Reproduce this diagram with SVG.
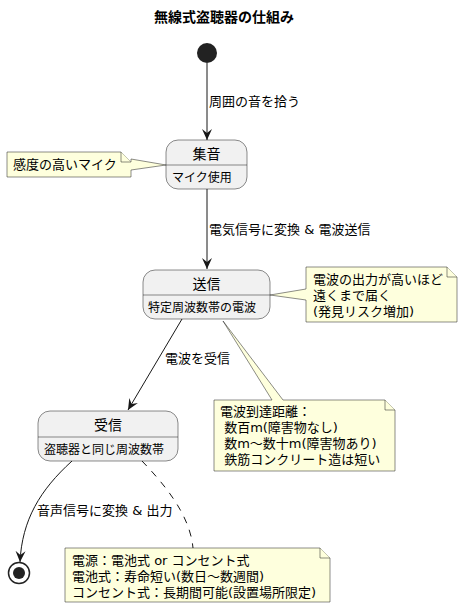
<svg xmlns="http://www.w3.org/2000/svg" width="463" height="608" viewBox="0 0 463 608">
<defs>
<marker id="arr" viewBox="0 0 12 10" refX="11" refY="5" markerWidth="12" markerHeight="10" markerUnits="userSpaceOnUse" orient="auto">
<path d="M0,0 L11,5 L0,10 L4,5 Z" fill="#181818"/>
</marker>
</defs>
<style>
text{font-family:"DejaVu Sans","Noto Sans CJK JP",sans-serif;fill:#000;white-space:pre}
.t{font-size:14px;font-weight:bold}
.n{font-size:14px}
.d{font-size:12px}
.l,.nt{font-size:13px}
.state{fill:#F1F1F1;stroke:#181818;stroke-width:0.5}
.note{fill:#FEFFDD;stroke:#181818;stroke-width:0.5}
.edge{fill:none;stroke:#181818;stroke-width:1}
</style>
<rect width="463" height="608" fill="#fff"/>
<text class="t" x="224" y="22" text-anchor="middle">無線式盗聴器の仕組み</text>

<g id="start"><circle cx="207" cy="53" r="10" fill="#222"/></g>

<g id="connectors">
<path class="edge" d="M207,63 L207,140" marker-end="url(#arr)"/>
<text class="l" x="209" y="106">周囲の音を拾う</text>
<path class="edge" d="M207,189 L207,269" marker-end="url(#arr)"/>
<text class="l" x="209" y="234">電気信号に変換 &amp; 電波送信</text>
<path class="edge" d="M182,319 L128,410" marker-end="url(#arr)"/>
<text class="l" x="165" y="363">電波を受信</text>
<path class="edge" d="M72,461 C40,490 22,520 20,562" marker-end="url(#arr)"/>
<text class="l" x="37" y="515">音声信号に変換 &amp; 出力</text>
<path class="edge" d="M142,461 C165,485 190,515 193,548" stroke-dasharray="7,7"/>
</g>

<g id="s_shuuon">
<rect class="state" x="166" y="140" width="81" height="49" rx="12"/>
<line x1="166" y1="165" x2="247" y2="165" stroke="#181818" stroke-width="0.5"/>
<text class="n" x="206.5" y="159" text-anchor="middle">集音</text>
<text class="d" x="172" y="182">マイク使用</text>
</g>

<g id="note1">
<path class="note" d="M7,152 L121,152 L131,162 L131,159 L166,165 L131,170 L131,177 L7,177 Z"/>
<path class="note" d="M121,152 L121,162 L131,162"/>
<text class="nt" x="13" y="169">感度の高いマイク</text>
</g>

<g id="s_soushin">
<rect class="state" x="143" y="270" width="127" height="49" rx="12"/>
<line x1="143" y1="295" x2="270" y2="295" stroke="#181818" stroke-width="0.5"/>
<text class="n" x="206.5" y="289" text-anchor="middle">送信</text>
<text class="d" x="148" y="312">特定周波数帯の電波</text>
</g>

<g id="note2">
<path class="note" d="M306,267 L447,267 L457,277 L457,322 L306,322 L306,300 L270,295 L306,289 Z"/>
<path class="note" d="M447,267 L447,277 L457,277"/>
<text class="nt" x="313" y="284">電波の出力が高いほど</text>
<text class="nt" x="313" y="300">遠くまで届く</text>
<text class="nt" x="313" y="316">(発見リスク増加)</text>
</g>

<g id="note3">
<path class="note" d="M214,400 L272,400 L223,321 L283,400 L385,400 L395,410 L395,471 L214,471 Z"/>
<path class="note" d="M385,400 L385,410 L395,410"/>
<text class="nt" x="220" y="416" xml:space="preserve">電波到達距離：</text>
<text class="nt" x="220" y="432" xml:space="preserve"> 数百m(障害物なし)</text>
<text class="nt" x="220" y="448" xml:space="preserve"> 数m〜数十m(障害物あり)</text>
<text class="nt" x="220" y="464" xml:space="preserve"> 鉄筋コンクリート造は短い</text>
</g>

<g id="s_jushin">
<rect class="state" x="38" y="411" width="140" height="50" rx="12"/>
<line x1="38" y1="437" x2="178" y2="437" stroke="#181818" stroke-width="0.5"/>
<text class="n" x="108" y="430" text-anchor="middle">受信</text>
<text class="d" x="44" y="454">盗聴器と同じ周波数帯</text>
</g>

<g id="note4">
<path class="note" d="M65,548 L320,548 L330,558 L330,602 L65,602 Z"/>
<path class="note" d="M320,548 L320,558 L330,558"/>
<text class="nt" x="72" y="565">電源：電池式 or コンセント式</text>
<text class="nt" x="72" y="581">電池式：寿命短い(数日〜数週間)</text>
<text class="nt" x="72" y="597">コンセント式：長期間可能(設置場所限定)</text>
</g>

<g id="end">
<circle cx="19" cy="573" r="10.5" fill="none" stroke="#222" stroke-width="1.5"/>
<circle cx="19" cy="573" r="6" fill="#222"/>
</g>
</svg>
